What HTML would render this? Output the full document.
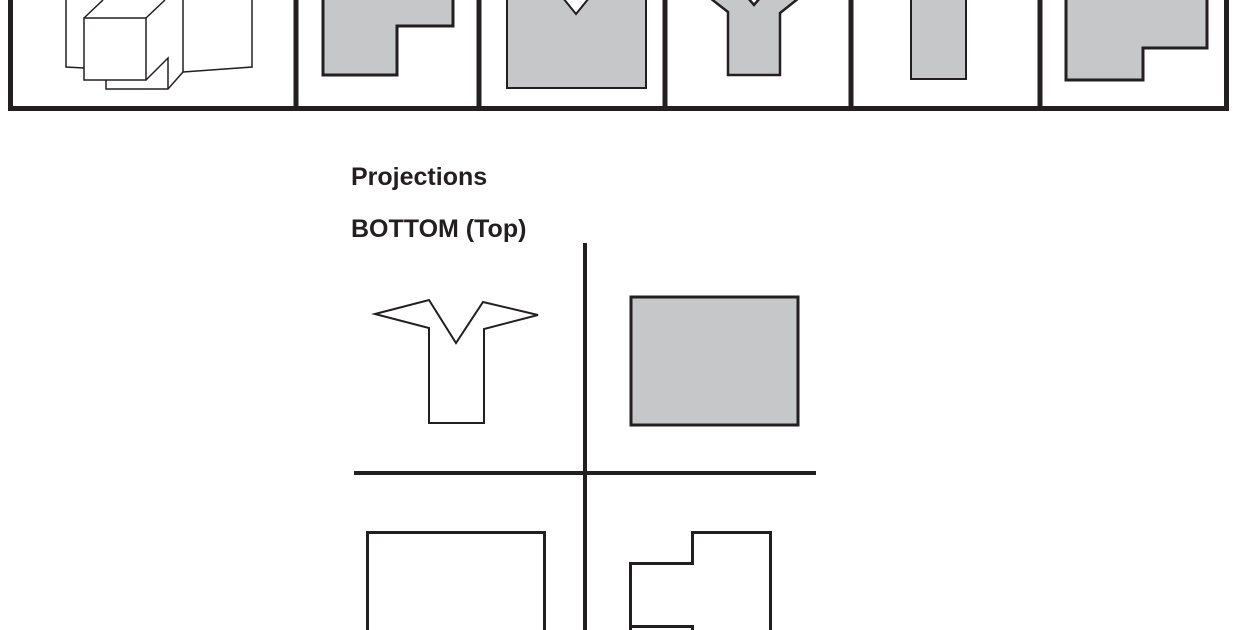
<!DOCTYPE html>
<html><head><meta charset="utf-8"><style>
html,body{margin:0;padding:0;background:#fff;width:1240px;height:630px;overflow:hidden}
svg{position:absolute;left:0;top:0}
text{font-family:"Liberation Sans",Arial,sans-serif;font-weight:bold;font-size:25px;fill:#231f20}
</style></head><body>
<svg width="1240" height="630" viewBox="0 0 1240 630">
<g fill="none" stroke="#231f20" stroke-width="5">
<polyline points="10.5,0 10.5,108.5 1226.5,108.5 1226.5,0"/>
<line x1="296" y1="0" x2="296" y2="108"/>
<line x1="479" y1="0" x2="479" y2="108"/>
<line x1="665" y1="0" x2="665" y2="108"/>
<line x1="851" y1="0" x2="851" y2="108"/>
<line x1="1040" y1="0" x2="1040" y2="108"/>
</g>
<g fill="none" stroke="#231f20" stroke-width="1.5" stroke-linejoin="miter">
<polyline points="66,0 66,67 84,68"/>
<rect x="84" y="18" width="62" height="62"/>
<line x1="84" y1="18" x2="103" y2="0"/>
<line x1="146" y1="18" x2="165" y2="0"/>
<line x1="183" y1="0" x2="183" y2="72"/>
<polyline points="183,72 252,67 252,0"/>
<polyline points="146,80 168,58 168,89"/>
<polyline points="106,80 106,89 168,89 183,72"/>
</g>
<g fill="#c6c7c9" stroke="#231f20" stroke-width="3">
<polygon points="323,-2 453,-2 453,26 397,26 397,75 323,75"/>
<polygon points="507,-2 563,-2 576,14 589,-2 646,-2 646,88 507,88" stroke-width="2"/>
<polygon points="710,-2 728,12 728,75 780,75 780,13 799,-2 760,-2 754,5 748,-2" stroke-width="2.5"/>
<rect x="911" y="-2" width="55" height="81" stroke-width="2"/>
<polygon points="1066,-2 1207,-2 1207,48 1143,48 1143,80 1066,80"/>
</g>
<text x="351" y="185">Projections</text>
<text x="351" y="237">BOTTOM (Top)</text>
<g stroke="#231f20" stroke-width="4" fill="none">
<line x1="585" y1="243" x2="585" y2="630"/>
<line x1="354" y1="473" x2="816" y2="473"/>
</g>
<polygon points="375,314 429,300 456,343 483,302 538,315 484,329 484,423 429,423 429,328" fill="none" stroke="#231f20" stroke-width="2"/>
<rect x="631" y="297" width="167" height="128" fill="#c6c7c9" stroke="#231f20" stroke-width="3"/>
<polyline points="367.5,630 367.5,532.5 544.5,532.5 544.5,630" fill="none" stroke="#231f20" stroke-width="3"/>
<polyline points="630.5,630 630.5,563.5 692.5,563.5 692.5,532.5 770.5,532.5 770.5,630" fill="none" stroke="#231f20" stroke-width="3"/>
<polyline points="630.5,626.5 692.5,626.5 692.5,632" fill="none" stroke="#231f20" stroke-width="3"/>
</svg>
</body></html>
